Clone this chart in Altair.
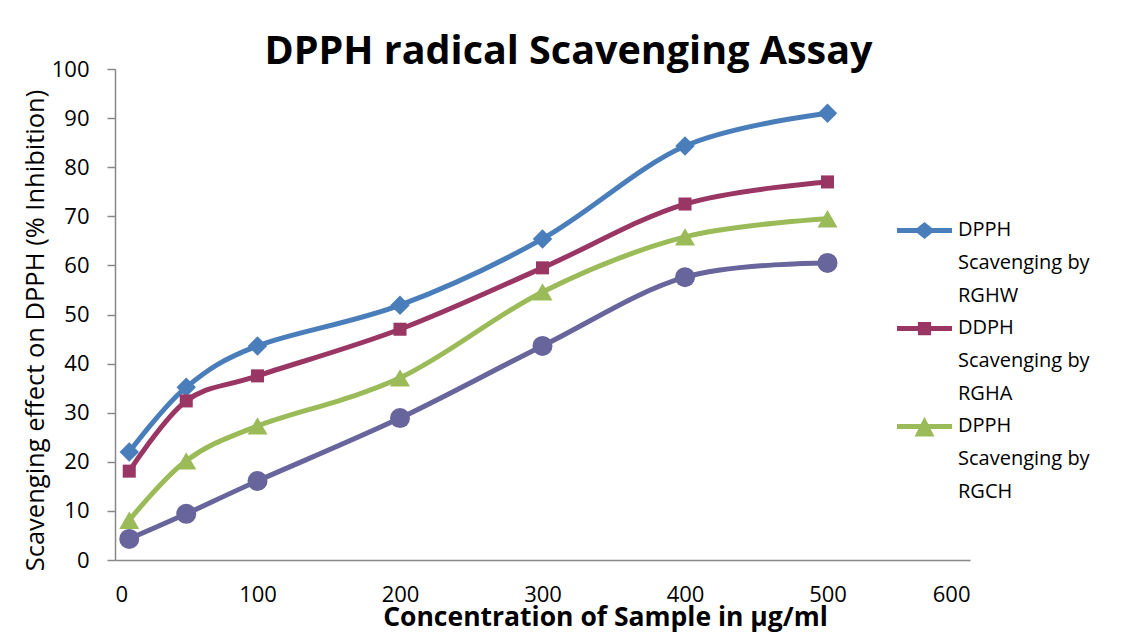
import altair as alt
import pandas as pd

conc = [10, 50, 100, 200, 300, 400, 500]
series_names = [
    "DPPH Scavenging by RGHW",
    "DDPH Scavenging by RGHA",
    "DPPH Scavenging by RGCH",
    "Series4",
]
rghw = [22.0, 35.2, 43.6, 51.9, 65.4, 84.3, 91.0]
rgha = [18.1, 32.4, 37.5, 47.0, 59.5, 72.5, 77.0]
rgch = [8.1, 20.2, 27.3, 37.1, 54.6, 65.8, 69.5]
series4 = [4.3, 9.4, 16.1, 28.9, 43.6, 57.6, 60.5]
colors = ["#4a7ebb", "#993664", "#9bbb59", "#67659b"]
shapes = ["diamond", "square", "triangle-up", "circle"]
marker_sizes = [380, 170, 400, 400]
x_ticks = [0, 100, 200, 300, 400, 500, 600]
y_ticks = [0, 10, 20, 30, 40, 50, 60, 70, 80, 90, 100]

rows = []
for name, vals in zip(series_names, [rghw, rgha, rgch, series4]):
    for c, v in zip(conc, vals):
        rows.append({"series": name, "conc": c, "value": v})
df = pd.DataFrame(rows)

FONT = "Open Sans"

# legend glyphs: a short line with the marker on it (unit box -1..1)
legend_paths = [
    "M-1,-0.27L-0.27,-0.27L0,-0.49L0.27,-0.27L1,-0.27L1,-0.09L0.27,-0.09L0,0.13L-0.27,-0.09L-1,-0.09Z",
    "M-1,-0.27L-0.24,-0.27L-0.24,-0.42L0.24,-0.42L0.24,-0.27L1,-0.27L1,-0.09L0.24,-0.09L0.24,0.06L-0.24,0.06L-0.24,-0.09L-1,-0.09Z",
    "M-1,-0.27L-0.135,-0.27L0,-0.54L0.135,-0.27L1,-0.27L1,-0.09L0.225,-0.09L0.36,0.18L-0.36,0.18L-0.225,-0.09L-1,-0.09Z",
    "circle",
]

color_scale = alt.Scale(domain=series_names, range=colors)

legend = alt.Legend(
    title=None,
    orient="none",
    legendX=782,
    legendY=139,
    values=series_names[:3],
    labelFont=FONT,
    labelFontSize=20,
    labelColor="black",
    labelLimit=300,
    labelOffset=6,
    labelBaseline="alphabetic",
    labelExpr="split(replace(datum.label, ' Scavenging by ', '|Scavenging by|'), '|')",
    symbolSize=3025,
    symbolStrokeWidth=0,
    symbolOpacity=1,
    rowPadding=-3,
)

x_enc = alt.X(
    "conc:Q",
    scale=alt.Scale(domain=[0, 600], nice=False),
    axis=alt.Axis(
        values=x_ticks,
        title="Concentration of Sample in µg/ml",
        titleFont=FONT,
        titleFontSize=26.5,
        titleFontWeight="bold",
        titleColor="black",
        titleX=490,
        titleY=57,
        titleBaseline="middle",
        titleAlign="center",
        labelFont=FONT,
        labelFontSize=22,
        labelColor="black",
        labelPadding=24,
        ticks=False,
        grid=False,
        domainColor="#888888",
        domainWidth=1.5,
    ),
)
y_enc = alt.Y(
    "value:Q",
    scale=alt.Scale(domain=[0, 100], nice=False),
    axis=alt.Axis(
        values=y_ticks,
        title="Scavenging effect on DPPH (% Inhibition)",
        titleFont=FONT,
        titleFontSize=25.5,
        titleFontWeight="normal",
        titleColor="black",
        titleX=-80,
        titleY=261,
        titleBaseline="middle",
        titleAlign="center",
        labelFont=FONT,
        labelFontSize=22,
        labelColor="black",
        labelPadding=18,
        tickSize=8,
        tickColor="#888888",
        tickWidth=1.5,
        grid=False,
        domainColor="#888888",
        domainWidth=1.5,
    ),
)

base = alt.Chart(df)
layers = [
    base.mark_line(interpolate="cardinal", strokeWidth=5).encode(
        x=x_enc,
        y=y_enc,
        color=alt.Color("series:N", scale=color_scale, legend=None),
        detail="series:N",
    )
]
for name, shp, sz in zip(series_names, shapes, marker_sizes):
    layers.append(
        base.transform_filter(alt.datum.series == name)
        .mark_point(filled=True, opacity=1, shape=shp, size=sz)
        .encode(
            x=x_enc,
            y=y_enc,
            color=alt.Color("series:N", scale=color_scale, legend=None),
        )
    )
layers.append(
    base.transform_filter("datum.conc < 0")
    .mark_point(filled=True, opacity=1)
    .encode(
        x=x_enc,
        y=y_enc,
        color=alt.Color("series:N", scale=color_scale, legend=legend),
        shape=alt.Shape("series:N", scale=alt.Scale(domain=series_names, range=legend_paths), legend=legend),
    )
)

chart = (
    alt.layer(*layers)
    .resolve_scale(color="independent", shape="independent")
    .properties(
        width=855,
        height=491,
        title=alt.Title(
            "DPPH radical Scavenging Assay",
            font=FONT,
            fontSize=39.5,
            fontWeight="bold",
            color="black",
            anchor="middle",
            dx=26,
            offset=-45,
            baseline="alphabetic",
        ),
        autosize=alt.AutoSizeParams(type="none"),
        padding={"left": 107, "top": 61, "right": 140, "bottom": 73},
    )
    .configure(background="white", style={"guide-label": {"lineHeight": 33}})
    .configure_view(stroke="transparent", strokeWidth=0)
)

chart.save("out.html", embed_options={"renderer": "svg", "actions": False})
